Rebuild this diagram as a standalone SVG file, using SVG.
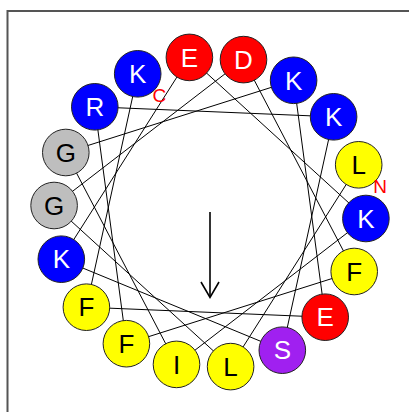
<svg xmlns="http://www.w3.org/2000/svg" width="409" height="412" viewBox="0 0 409 412">
<style>
.c{stroke:#222;stroke-width:1}
.b{fill:#0000FF}.r{fill:#FF0000}.y{fill:#FFFF00}.g{fill:#BEBEBE}.p{fill:#A020F0}
text{font-family:"Liberation Sans",Arial,sans-serif;text-anchor:middle}
.t{font-size:26px}
.w{fill:#fff}.k{fill:#000}
.lbl{font-size:19px;fill:#FF0000}
</style>
<rect x="7.5" y="11" width="420" height="420" fill="#fff" stroke="#555" stroke-width="2"/>
<g id="connectors" fill="none" stroke="#000" stroke-width="1">
<polyline points="358.7,164.8 230.6,366.6 54.1,205.5 243.5,59.6 354.2,271.5 126.4,343.7 94.8,106.8 333.6,116.8 282.3,350.2 61.3,259.2 189.4,57.4 365.9,218.5 176.5,364.4 65.8,152.5 293.6,80.3 325.2,317.2 86.4,307.2 137.7,73.8"/>
</g>
<g id="arrow" fill="none" stroke="#000" stroke-width="1.6">
<line x1="210" y1="212" x2="210" y2="297"/>
<polyline points="201,282 210,297.5 219,282"/>
</g>
<g id="n0"><circle class="c y" cx="358.7" cy="164.8" r="23.3"/><text class="t k" x="358.7" y="174">L</text></g>
<g id="n1"><circle class="c b" cx="365.9" cy="218.5" r="23.3"/><text class="t w" x="365.9" y="227.7">K</text></g>
<g id="n2"><circle class="c y" cx="354.2" cy="271.5" r="23.3"/><text class="t k" x="354.2" y="280.7">F</text></g>
<g id="n3"><circle class="c r" cx="325.2" cy="317.2" r="23.3"/><text class="t w" x="325.2" y="326.4">E</text></g>
<g id="n4"><circle class="c p" cx="282.3" cy="350.2" r="23.3"/><text class="t w" x="282.3" y="359.4">S</text></g>
<g id="n5"><circle class="c y" cx="230.6" cy="366.6" r="23.3"/><text class="t k" x="230.6" y="375.8">L</text></g>
<g id="n6"><circle class="c y" cx="176.5" cy="364.4" r="23.3"/><text class="t k" x="176.5" y="373.6">I</text></g>
<g id="n7"><circle class="c y" cx="126.4" cy="343.7" r="23.3"/><text class="t k" x="126.4" y="352.9">F</text></g>
<g id="n8"><circle class="c y" cx="86.4" cy="307.2" r="23.3"/><text class="t k" x="86.4" y="316.4">F</text></g>
<g id="n9"><circle class="c b" cx="61.3" cy="259.2" r="23.3"/><text class="t w" x="61.3" y="268.4">K</text></g>
<g id="n10"><circle class="c g" cx="54.1" cy="205.5" r="23.3"/><text class="t k" x="54.1" y="214.7">G</text></g>
<g id="n11"><circle class="c g" cx="65.8" cy="152.5" r="23.3"/><text class="t k" x="65.8" y="161.7">G</text></g>
<g id="n12"><circle class="c b" cx="94.8" cy="106.8" r="23.3"/><text class="t w" x="94.8" y="116">R</text></g>
<g id="n13"><circle class="c b" cx="137.7" cy="73.8" r="23.3"/><text class="t w" x="137.7" y="83">K</text></g>
<g id="n14"><circle class="c r" cx="189.4" cy="57.4" r="23.3"/><text class="t w" x="189.4" y="66.6">E</text></g>
<g id="n15"><circle class="c r" cx="243.5" cy="59.6" r="23.3"/><text class="t w" x="243.5" y="68.8">D</text></g>
<g id="n16"><circle class="c b" cx="293.6" cy="80.3" r="23.3"/><text class="t w" x="293.6" y="89.5">K</text></g>
<g id="n17"><circle class="c b" cx="333.6" cy="116.8" r="23.3"/><text class="t w" x="333.6" y="126">K</text></g>
<g id="labels"><text class="lbl" x="159.3" y="102.3">C</text><text class="lbl" x="380" y="193.1">N</text></g>
</svg>
